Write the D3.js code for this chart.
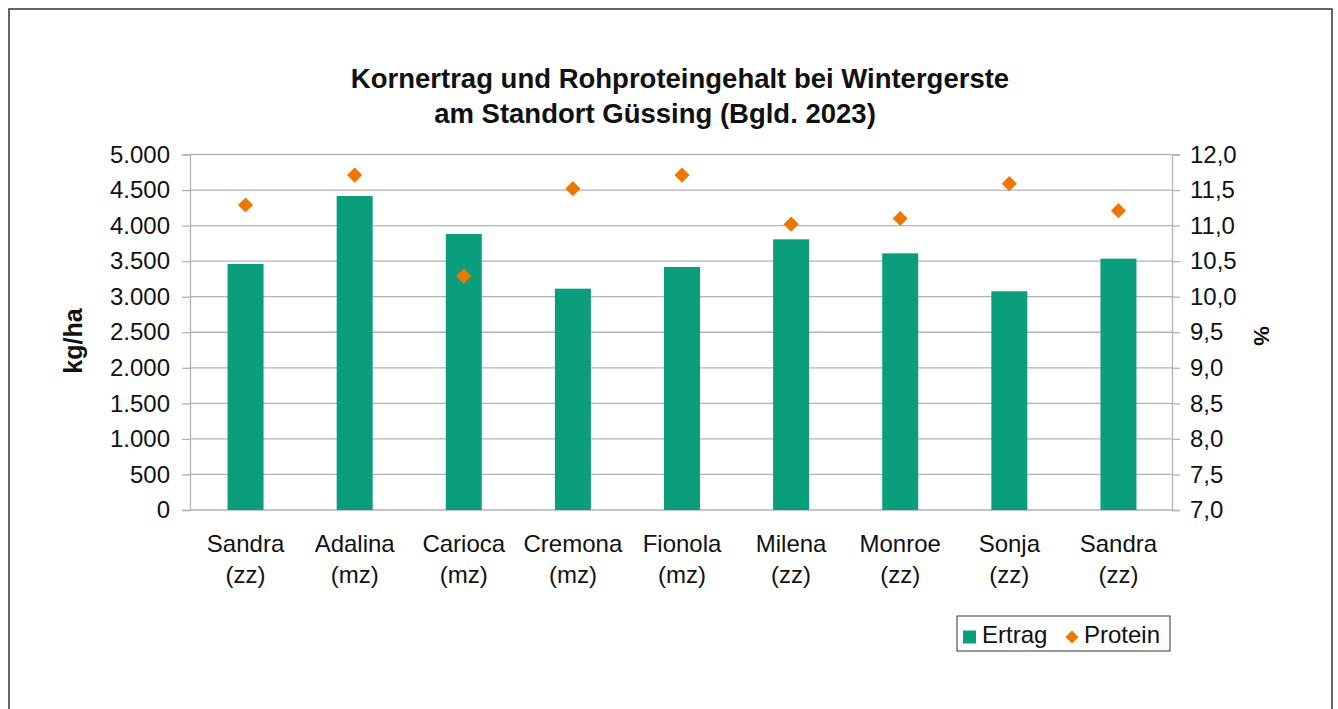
<!DOCTYPE html>
<html>
<head>
<meta charset="utf-8">
<script src="https://cdn.jsdelivr.net/npm/d3@7"></script>
<style>
  body { margin: 0; background: #fff; }
  text { font-family: "Liberation Sans", Arial, Helvetica, sans-serif; fill: #111; }
</style>
</head>
<body>
<svg id="chart" width="1338" height="709"></svg>
<script>
const sorten = ["Sandra", "Adalina", "Carioca", "Cremona", "Fionola", "Milena", "Monroe", "Sonja", "Sandra"];
const typen = ["(zz)", "(mz)", "(mz)", "(mz)", "(mz)", "(zz)", "(zz)", "(zz)", "(zz)"];
const ertrag = [3460, 4416, 3882, 3113, 3418, 3807, 3610, 3076, 3535];
const protein = [11.29, 11.71, 10.29, 11.52, 11.71, 11.02, 11.10, 11.59, 11.21];
const ertragTicks = [0, 500, 1000, 1500, 2000, 2500, 3000, 3500, 4000, 4500, 5000];
const proteinTicks = [7, 7.5, 8, 8.5, 9, 9.5, 10, 10.5, 11, 11.5, 12];

const green = "#0b9e7c";
const orange = "#ee7700";

const svg = d3.select("#chart");

// outer frame
svg.append("rect")
    .attr("x", 9).attr("y", 9)
    .attr("width", 1323).attr("height", 720)
    .attr("fill", "none")
    .attr("stroke", "#333")
    .attr("stroke-width", 1.5);

const plotL = 190, plotR = 1172, plotT = 154.5, plotB = 510;

const x = d3.scaleBand()
    .domain(d3.range(sorten.length))
    .range([plotL, plotR]);

const y = d3.scaleLinear().domain([0, 5000]).range([plotB, plotT]);
const y2 = d3.scaleLinear().domain([7, 12]).range([plotB, plotT]);

// gridlines
svg.append("g")
    .selectAll("line")
    .data(ertragTicks.slice(1))
    .join("line")
    .attr("x1", plotL).attr("x2", plotR)
    .attr("y1", d => y(d)).attr("y2", d => y(d))
    .attr("stroke", "#b3b3b3")
    .attr("stroke-width", 1.3);

// left axis
const fmtK = d => d3.format(",")(d).replace(/,/g, ".");
const yAxis = svg.append("g")
    .attr("transform", `translate(${plotL},0)`)
    .call(d3.axisLeft(y).tickValues(ertragTicks).tickFormat(fmtK).tickSize(8).tickPadding(12));

// right axis
const fmtP = d => d.toFixed(1).replace(".", ",");
const y2Axis = svg.append("g")
    .attr("transform", `translate(${plotR},0)`)
    .call(d3.axisRight(y2).tickValues(proteinTicks).tickFormat(fmtP).tickSize(8).tickPadding(10));

[yAxis, y2Axis].forEach(g => {
    g.select(".domain").attr("stroke", "#b3b3b3").attr("stroke-width", 1.3);
    g.selectAll(".tick line").attr("stroke", "#b3b3b3").attr("stroke-width", 1.3);
    g.selectAll(".tick text").attr("font-size", 24).attr("fill", "#111")
        .attr("font-family", "Liberation Sans, Arial, sans-serif");
});

// bottom axis line
svg.append("line")
    .attr("x1", plotL).attr("x2", plotR)
    .attr("y1", plotB).attr("y2", plotB)
    .attr("stroke", "#b3b3b3")
    .attr("stroke-width", 1.3);

// bars
const barW = 36;
svg.append("g")
    .selectAll("rect")
    .data(ertrag)
    .join("rect")
    .attr("x", (d, i) => x(i) + x.bandwidth() / 2 - barW / 2 + 1)
    .attr("width", barW)
    .attr("y", d => y(d))
    .attr("height", d => plotB - y(d))
    .attr("fill", green);

// protein diamonds
const diamond = d3.symbol().type(d3.symbolSquare).size(115);
svg.append("g")
    .selectAll("path")
    .data(protein)
    .join("path")
    .attr("d", diamond)
    .attr("transform", (d, i) => `translate(${x(i) + x.bandwidth() / 2 + 1},${y2(d)}) rotate(45)`)
    .attr("fill", orange);

// category labels
const lbl = svg.append("g")
    .selectAll("text")
    .data(sorten)
    .join("text")
    .attr("x", (d, i) => x(i) + x.bandwidth() / 2 + 1)
    .attr("text-anchor", "middle")
    .attr("font-size", 24);
lbl.append("tspan").attr("y", 552).text(d => d);
lbl.append("tspan")
    .attr("x", (d, i) => x(i) + x.bandwidth() / 2 + 1)
    .attr("y", 583)
    .text((d, i) => typen[i]);

// title
svg.append("text")
    .attr("x", 680).attr("y", 88)
    .attr("text-anchor", "middle")
    .attr("font-size", 27.5).attr("font-weight", "bold")
    .text("Kornertrag und Rohproteingehalt bei Wintergerste");
svg.append("text")
    .attr("x", 655).attr("y", 123)
    .attr("text-anchor", "middle")
    .attr("font-size", 27.5).attr("font-weight", "bold")
    .text("am Standort Güssing (Bgld. 2023)");

// axis titles
svg.append("text")
    .attr("transform", "translate(82,341) rotate(-90)")
    .attr("text-anchor", "middle")
    .attr("font-size", 25).attr("font-weight", "bold")
    .text("kg/ha");
svg.append("text")
    .attr("transform", "translate(1254,336) rotate(90)")
    .attr("text-anchor", "middle")
    .attr("font-size", 22).attr("font-weight", "bold")
    .text("%");

// legend
const lg = svg.append("g").attr("transform", "translate(957,616)");
lg.append("rect")
    .attr("width", 213).attr("height", 35)
    .attr("fill", "#fff")
    .attr("stroke", "#333")
    .attr("stroke-width", 1);
lg.append("rect")
    .attr("x", 6).attr("y", 14.5).attr("width", 13).attr("height", 13)
    .attr("fill", green);
lg.append("text")
    .attr("x", 25).attr("y", 27)
    .attr("font-size", 24)
    .text("Ertrag");
lg.append("path")
    .attr("d", d3.symbol().type(d3.symbolSquare).size(85))
    .attr("transform", "translate(115,21) rotate(45)")
    .attr("fill", orange);
lg.append("text")
    .attr("x", 127).attr("y", 27)
    .attr("font-size", 24)
    .text("Protein");
</script>
</body>
</html>
